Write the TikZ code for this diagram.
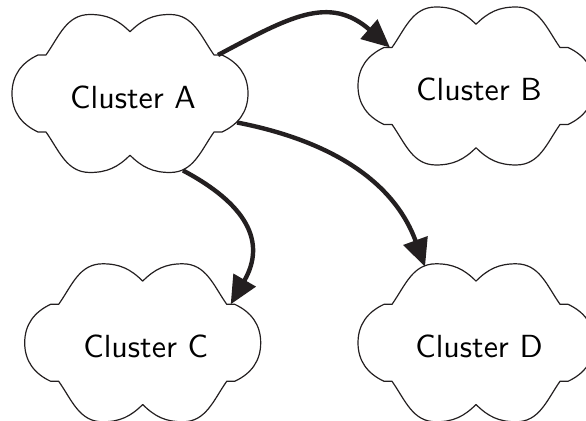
\documentclass[tikz,border=0pt]{standalone}
\usepackage{fontspec}
\usepackage{tikz}
\usetikzlibrary{arrows.meta,positioning}
\newfontfamily\clusterfont{lmsans10-regular.otf}
\definecolor{inkgray}{RGB}{35,31,32}
\tikzset{%
	cluster/.style   = {inner sep=0pt, font=\clusterfont\fontsize{16bp}{19bp}\selectfont}, % Cluster name
	cloudline/.style = {draw=inkgray, line width=0.6bp, line join=round}, % Cloud outline
	link/.style      = {draw=inkgray, line width=2.2bp, -{Triangle[length=14bp,width=12.5bp]}}, % Arrow
}
\begin{document}
\begin{tikzpicture}[x=0.5bp, y=0.5bp]
		\useasboundingbox (0,0) rectangle (586,421);
		\node[cluster] (a) at (133,323.8) {Cluster A};
		\node[cluster, right of=a, node distance=173bp, yshift=3.75bp] (b) {Cluster B};
		\node[cluster, below of=a, node distance=124.65bp, xshift=6.35bp] (c) {Cluster C};
		\node[cluster, right of=c, node distance=166.65bp] (d) {Cluster D};
		% clouds round the names
		\foreach \n in {a,b,c,d}{
			\begin{scope}[shift={(\n.center)}, xshift=-1.5bp, yshift=1.85bp]
				\draw[cloudline] (0,61.7) to[out=45,in=180] (40,79) to[out=0,in=125] (84,38.5) -- (92,38.5)
					to[out=-25,in=90] (118,0) to[out=-90,in=25] (92,-38.5) -- (84,-38.5)
					to[out=-125,in=0] (40,-79) to[out=180,in=-45] (0,-61.7)
					to[out=-135,in=0] (-40,-79) to[out=180,in=-55] (-84,-38.5) -- (-92,-38.5)
					to[out=155,in=-90] (-118,0) to[out=90,in=-155] (-92,38.5) -- (-84,38.5)
					to[out=55,in=180] (-40,79) to[out=0,in=135] cycle;
				\coordinate (\n-ne) at (88,38.5);
				\coordinate (\n-nw) at (-86,38.5);
				\coordinate (\n-n) at (-51,76);
				\coordinate (\n-e) at (107,-29);
				\coordinate (\n-s) at (53,-77);
			\end{scope}
		}
		\draw[link] (a-ne) to[out=28, in=139, looseness=1.2] (b-nw);
		\draw[link] (a-e) to[out=-11, in=110] (d-n);
		\draw[link] (a-s) to[out=-28, in=60, looseness=1.3] (c-ne);
		
		\end{tikzpicture}
\end{document}
